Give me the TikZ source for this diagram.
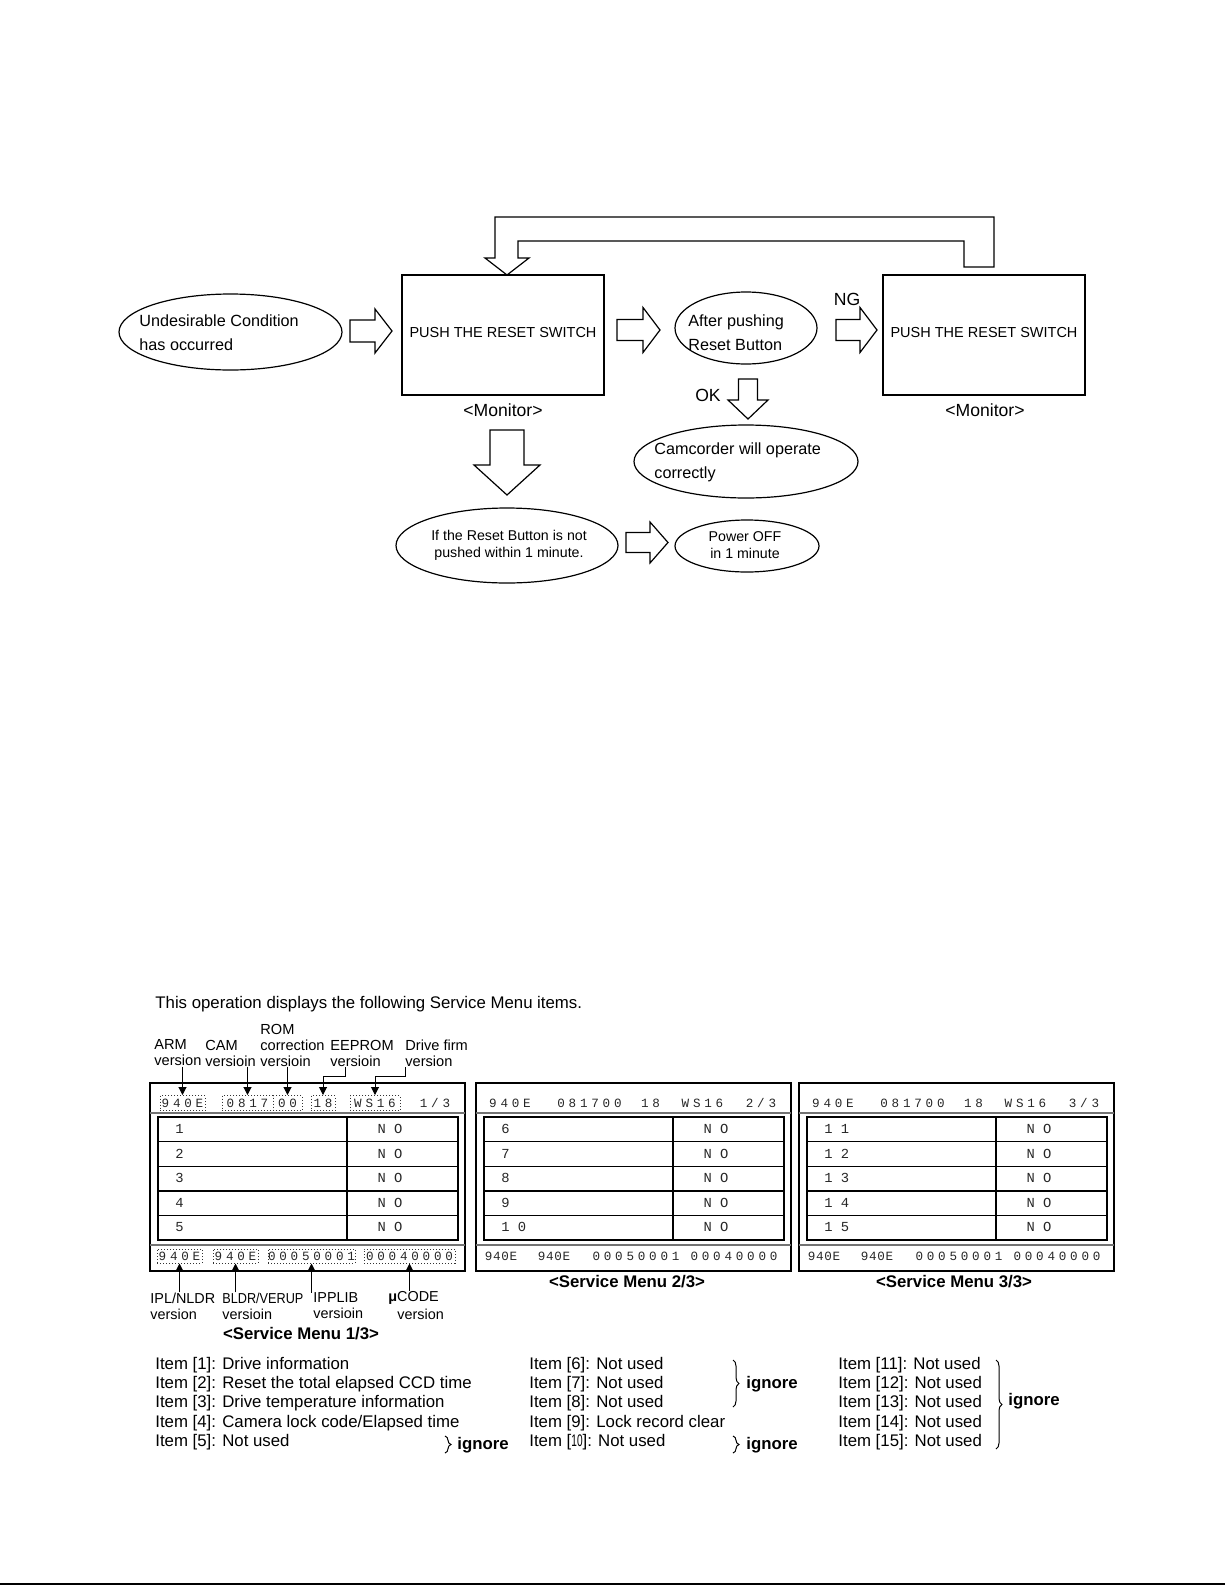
\documentclass[tikz,border=0pt]{standalone}
\usepackage{fontspec}
\setmainfont{Liberation Sans}
\newfontfamily\mrow{Liberation Mono}
\newfontfamily\mhi[LetterSpace=30]{Liberation Mono}
\newfontfamily\mlo[LetterSpace=5]{Liberation Mono}
\usepackage{graphicx}
\usetikzlibrary{arrows.meta,decorations.pathreplacing,shapes.geometric}

% right-pointing hollow block arrow: x0, yc, length, shaft half, head half, head length
\newcommand{\RBlock}[6]{\draw[blk] (#1,{#2-#4}) -- ({#1+#3-#6},{#2-#4}) -- ({#1+#3-#6},{#2-#5}) -- ({#1+#3},#2) -- ({#1+#3-#6},{#2+#5}) -- ({#1+#3-#6},{#2+#4}) -- (#1,{#2+#4}) -- cycle;}
% down-pointing hollow block arrow: xc, y0, length, shaft half, head half, head length
\newcommand{\DBlock}[6]{\draw[blk] ({#1-#4},#2) -- ({#1+#4},#2) -- ({#1+#4},{#2+#3-#6}) -- ({#1+#5},{#2+#3-#6}) -- (#1,{#2+#3}) -- ({#1-#5},{#2+#3-#6}) -- ({#1-#4},{#2+#3-#6}) -- cycle;}
\newcommand{\MenuFrame}[1]{%
  \draw[menuline] (#1,1083) rectangle ({#1+315},1271);
  \draw[sepline] (#1,1113) -- ({#1+315},1113);
  \draw[sepline] (#1,1245) -- ({#1+315},1245);
  \draw[tabline] ({#1+8},1117) rectangle ({#1+308},1240);
  \draw[tabline] ({#1+197},1117) -- ({#1+197},1240);
  \foreach \k in {1,2,3,4} {\draw[tabline] ({#1+8},{1117+\k*24.6}) -- ({#1+308},{1117+\k*24.6});}
}
\newcommand{\MenuRows}[3]{%
  \foreach \t [count=\i from 0] in {#3} {
    \node[rowtxt, anchor=west] (#2r\i) at ({#1+25},{1129+\i*24.6}) {\t};
    \node[rowtxt] (#2n\i) at ({#1+240},{1129+\i*24.6}) {N O};
  }
}

\begin{document}
\begin{tikzpicture}[x=0.5pt,y=-0.5pt,
  boxsh/.style={draw, line width=0.6pt, inner sep=0pt, minimum width=101pt, minimum height=60pt},
  ell/.style={draw, ellipse, line width=0.6pt, inner sep=0pt},
  blk/.style={draw, line width=0.6pt, line join=miter},
  txa/.style={inner sep=0pt, font=\fontsize{8.1}{12}\selectfont},
  txb/.style={inner sep=0pt, font=\fontsize{7.25}{9}\selectfont},
  txc/.style={inner sep=0pt, font=\fontsize{7.1}{8.5}\selectfont},
  mon/.style={inner sep=0pt, font=\fontsize{8.8}{10}\selectfont},
  lbl/.style={inner sep=0pt, font=\fontsize{7.3}{8}\selectfont},
  itm/.style={inner sep=0pt, font=\fontsize{8.4}{10}\selectfont, anchor=west},
  ttl/.style={inner sep=0pt, font=\fontsize{8.4}{10}\selectfont\bfseries},
  rowtxt/.style={inner sep=0pt, text=black!85, font=\fontsize{6.9}{7}\mrow},
  hhi/.style={inner sep=0pt, text=black!85, font=\fontsize{6.3}{7}\mhi},
  hlo/.style={inner sep=0pt, text=black!85, font=\fontsize{6.3}{7}\mlo},
  dbox/.style={hhi, draw=black!80, densely dotted, line width=0.5pt, minimum height=7.5pt},
  menuline/.style={line width=0.6pt},
  sepline/.style={line width=0.6pt, black!55},
  tabline/.style={line width=0.7pt},
  arr/.style={-{Triangle[length=4pt,width=4pt]}, line width=0.5pt},
  brc/.style={decorate, decoration={brace, amplitude=3pt}, line width=0.5pt}
]
\useasboundingbox (0,0) rectangle (1225,1585);

% ---------------- flow chart ----------------
\node[ell, minimum width=111.5pt, minimum height=38pt] (cond) at (230.5,332) {};
\node[txa, anchor=west, align=left] (condtxt) at (139,333) {Undesirable Condition\\has occurred};

\node[boxsh] (box1) at (503,335) {};
\node[txb] (box1txt) at (503,333) {PUSH THE RESET SWITCH};
\node[mon] (mon1) at (503,410) {<Monitor>};

\node[ell, minimum width=71pt, minimum height=36pt] (after) at (746,328) {};
\node[txa, anchor=west, align=left] (aftertxt) at (688,332.5) {After pushing\\Reset Button};

\node[boxsh] (box2) at (984,335) {};
\node[txb] (box2txt) at (984,333) {PUSH THE RESET SWITCH};
\node[mon] (mon2) at (985,410) {<Monitor>};

\node[mon] (ng) at (847,299) {NG};
\node[mon] (ok) at (708,395) {OK};

\node[ell, minimum width=112pt, minimum height=36.5pt] (camc) at (746,461.5) {};
\node[txa, anchor=west, align=left] (camctxt) at (654,462.5) {Camcorder will operate\\correctly};

\node[ell, minimum width=111pt, minimum height=37.5pt] (ifnot) at (507,545.5) {};
\node[txc, align=center] (ifnottxt) at (509,545.5) {If the Reset Button is not\\pushed within 1 minute.};

\node[ell, minimum width=72pt, minimum height=26pt] (poff) at (747,546) {};
\node[txc, align=center] (pofftxt) at (745,545.5) {Power OFF\\in 1 minute};

% block arrows
\RBlock{350}{331}{42}{11}{22}{17}
\RBlock{617}{330}{43}{10.5}{22.5}{17}
\RBlock{836}{330}{41}{10.5}{22.5}{17}
\RBlock{626}{542.5}{42}{10}{20.5}{18}
\DBlock{748}{379}{40}{9.5}{20}{19}
\DBlock{507}{430}{65}{17}{33}{30}

% return loop from second box back to first box
\draw[blk] (495,217) -- (994,217) -- (994,267) -- (964,267) -- (964,241) -- (518,241) -- (518,258) -- (529,258) -- (507,275) -- (485,258) -- (495,258) -- cycle;

% ---------------- service menu ----------------
\node[itm] (intro) at (155,1004) {This operation displays the following Service Menu items.};

% top labels
\node[lbl, anchor=west, align=left] (armlbl) at (154,1053) {ARM\\version};
\node[lbl, anchor=west, align=left] (camlbl) at (205,1053) {CAM\\versioin};
\node[lbl, anchor=west, align=left] (romlbl) at (260,1045) {ROM\\correction\\versioin};
\node[lbl, anchor=west, align=left] (eeplbl) at (330,1053) {EEPROM\\versioin};
\node[lbl, anchor=west, align=left] (drvlbl) at (405,1053) {Drive firm\\version};

% menu frames
\MenuFrame{150}
\MenuFrame{476}
\MenuFrame{799}

% menu 1 header
\node[dbox, minimum width=22.5pt] (h1) at (182.5,1103) {940E};
\node[dbox, minimum width=25.5pt] (h2) at (247.5,1103) {0817};
\node[dbox, minimum width=14.5pt] (h3) at (287.5,1103) {00};
\node[dbox, minimum width=12pt] (h4) at (323,1103) {18};
\node[dbox, minimum width=25pt] (h5) at (375,1103) {WS16};
\node[hhi] (h6) at (435,1103) {1/3};

% top label arrows
\draw[arr] (armlbl.south -| h1.north) -- (h1.north);
\draw[arr] (camlbl.south -| h2.north) -- (h2.north);
\draw[arr] (romlbl.south -| h3.north) -- (h3.north);
\coordinate (eepk) at (345,1067);
\coordinate (drvk) at (405,1067);
\draw[arr] (eepk) -- (345,1076) -| (h4.north);
\draw[arr] (drvk) -- (405,1076) -| (h5.north);

% menu 1 footer
\node[dbox, minimum width=22.5pt, minimum height=7pt] (f1) at (179.5,1256) {940E};
\node[dbox, minimum width=22.5pt, minimum height=7pt] (f2) at (235.5,1256) {940E};
\node[dbox, minimum width=43.5pt, minimum height=7pt] (f3) at (311.5,1256) {00050001};
\node[dbox, minimum width=45.5pt, minimum height=7pt] (f4) at (409.5,1256) {00040000};

% bottom labels
\node[lbl, anchor=west, align=left, font=\fontsize{7.2}{8}\selectfont] (ipl) at (150,1306) {IPL/NLDR\\version};
\node[lbl, anchor=west, align=left, font=\fontsize{7.2}{8}\selectfont] (bldr) at (222,1306) {\scalebox{0.88}[1]{BLDR/VERUP}\\versioin};
\node[lbl, anchor=west, align=left, font=\fontsize{7.2}{8}\selectfont] (ipp) at (313,1306) {IPPLIB\\versioin};
\node[lbl, anchor=west, font=\fontsize{7.2}{8}\selectfont] (mucode) at (388,1298) {{\bfseries μ}CODE};
\node[lbl, anchor=west, font=\fontsize{7.2}{8}\selectfont] (muver) at (397,1314) {version};
\draw[arr] (ipl.north -| f1.south) -- (f1.south);
\draw[arr] (bldr.north -| f2.south) -- (f2.south);
\draw[arr] (ipp.north -| f3.south) -- (f3.south);
\draw[arr] (mucode.north -| f4.south) -- (f4.south);

% menu 2 and 3 header / footer
\foreach \x/\m in {476/2, 799/3} {
  \node[hhi] (hd\m-a) at ({\x+34},1103) {940E};
  \node[hhi] (hd\m-b) at ({\x+113.5},1103) {081700};
  \node[hhi] (hd\m-c) at ({\x+174.5},1103) {18};
  \node[hhi] (hd\m-d) at ({\x+226.5},1103) {WS16};
  \node[hhi] (hd\m-e) at ({\x+285},1103) {\m/3};
  \node[hlo] (ft\m-a) at ({\x+25},1256) {940E};
  \node[hlo] (ft\m-b) at ({\x+78},1256) {940E};
  \node[hhi] (ft\m-c) at ({\x+160},1256) {00050001};
  \node[hhi] (ft\m-d) at ({\x+258},1256) {00040000};
}

% rows
\MenuRows{150}{ma}{1,2,3,4,5}
\MenuRows{476}{mb}{6,7,8,9,{1 0}}
\MenuRows{799}{mc}{{1 1},{1 2},{1 3},{1 4},{1 5}}

% titles
\node[ttl] (sm1) at (301,1334) {<Service Menu 1/3>};
\node[ttl] (sm2) at (627,1282) {<Service Menu 2/3>};
\node[ttl] (sm3) at (954,1282) {<Service Menu 3/3>};

% item descriptions
\node[itm] (i1) at (155,1365) {Item [1]: Drive information};
\node[itm] (i2) at (155,1384.25) {Item [2]: Reset the total elapsed CCD time};
\node[itm] (i3) at (155,1403.5) {Item [3]: Drive temperature information};
\node[itm] (i4) at (155,1422.75) {Item [4]: Camera lock code/Elapsed time};
\node[itm] (i5) at (155,1442) {Item [5]: Not used};
\node[itm] (i6) at (529,1365) {Item [6]: Not used};
\node[itm] (i7) at (529,1384.25) {Item [7]: Not used};
\node[itm] (i8) at (529,1403.5) {Item [8]: Not used};
\node[itm] (i9) at (529,1422.75) {Item [9]: Lock record clear};
\node[itm] (i10) at (529,1442) {Item [\scalebox{0.6}[1]{10}]: Not used};
\node[itm] (i11) at (838,1365) {Item [11]: Not used};
\node[itm] (i12) at (838,1384.25) {Item [12]: Not used};
\node[itm] (i13) at (838,1403.5) {Item [13]: Not used};
\node[itm] (i14) at (838,1422.75) {Item [14]: Not used};
\node[itm] (i15) at (838,1442) {Item [15]: Not used};

% braces and ignore
\draw[brc] (445,1436) -- (445,1453);
\node[ttl, anchor=west] (ig1) at (457,1445) {ignore};
\draw[brc] (733,1360) -- (733,1407);
\node[ttl, anchor=west] (ig2) at (746,1384) {ignore};
\draw[brc] (733,1436) -- (733,1453);
\node[ttl, anchor=west] (ig3) at (746,1445) {ignore};
\draw[brc] (996,1360) -- (996,1449);
\node[ttl, anchor=west] (ig4) at (1008,1401) {ignore};

% bottom rule
\draw[line width=1pt] (0,1583.5) -- (1225,1583.5);
\end{tikzpicture}
\end{document}
